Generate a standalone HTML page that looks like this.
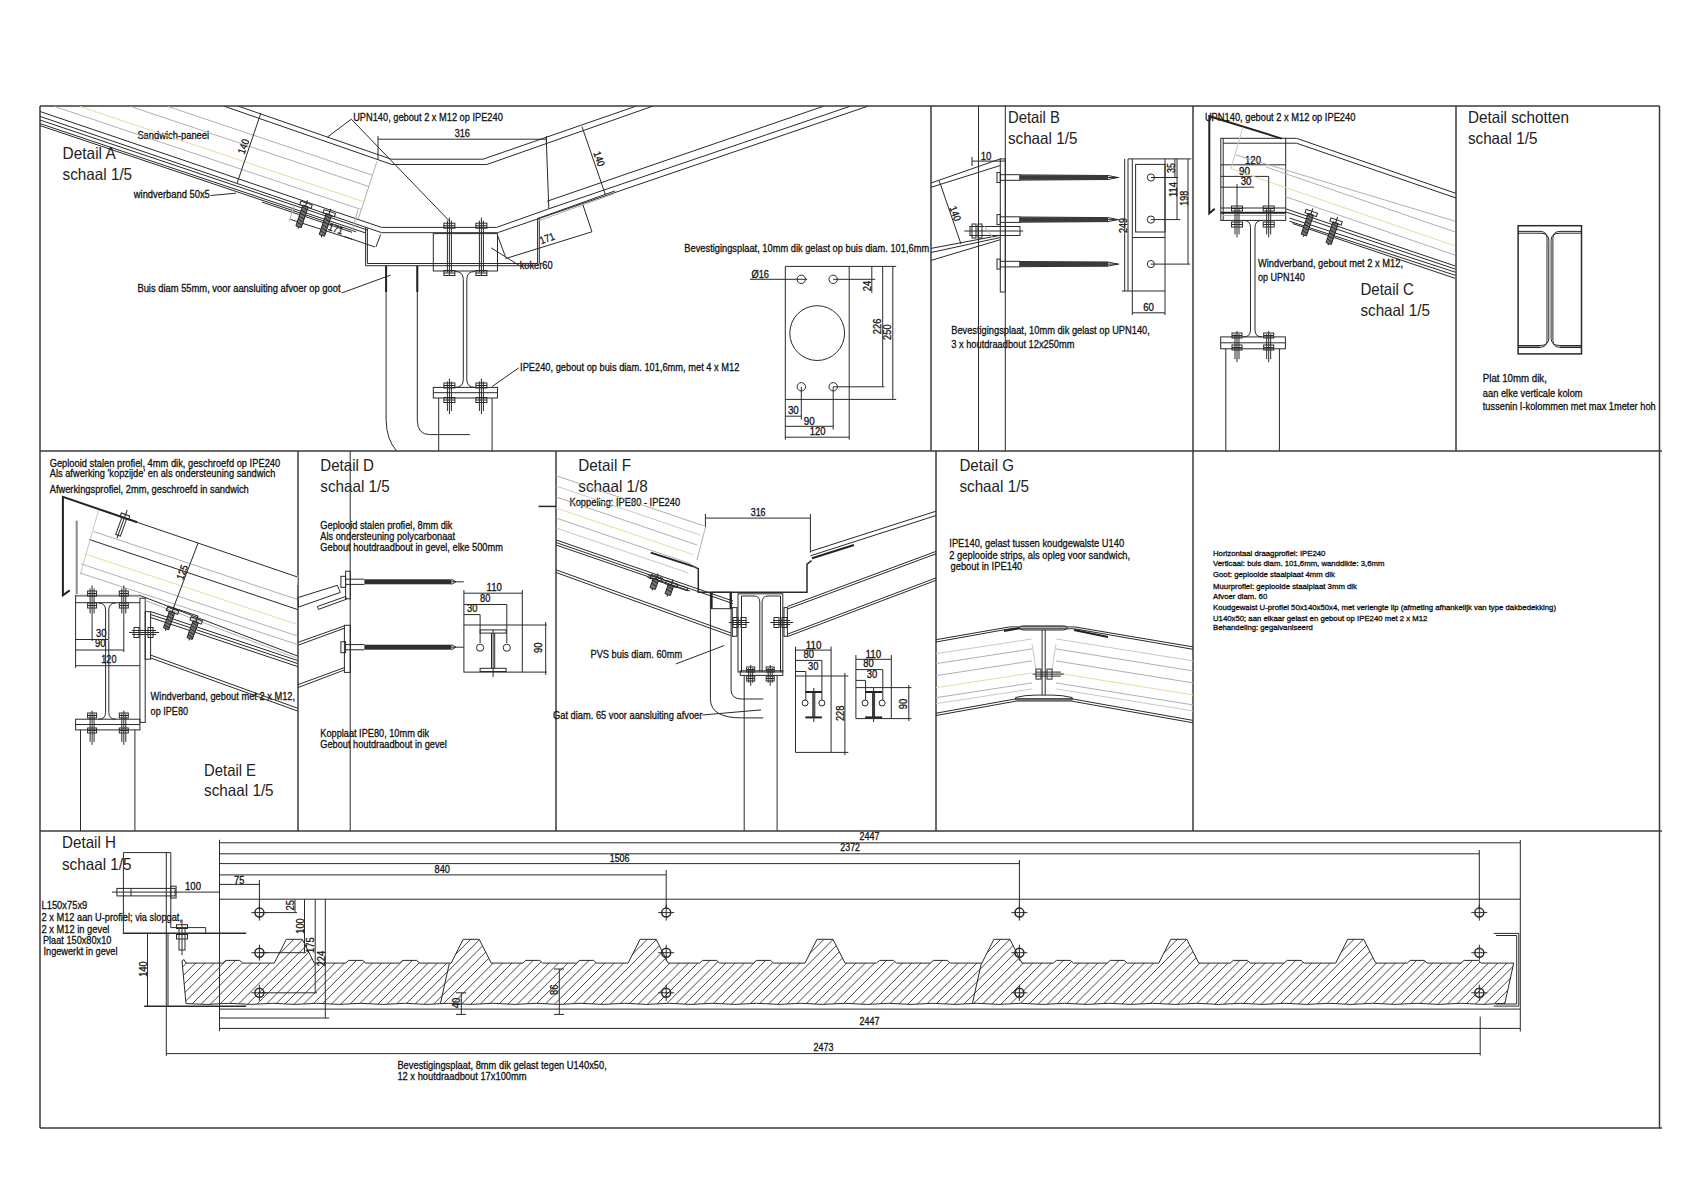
<!DOCTYPE html>
<html><head><meta charset="utf-8"><style>
html,body{margin:0;padding:0;background:#fff;}
body{width:1684px;height:1191px;overflow:hidden;}
svg{display:block;}
.k{stroke:#2a2a2a;stroke-width:1;fill:none;}
.kf{stroke:#2a2a2a;stroke-width:1;fill:none;}
.k2{stroke:#222;stroke-width:2;fill:none;}
.k15{stroke:#2a2a2a;stroke-width:1.5;fill:none;}
.g{stroke:#b0b0b0;stroke-width:1;fill:none;}
.gt{stroke:#8a8a8a;stroke-width:2;fill:none;}
.g2{stroke:#c8c8c8;stroke-width:1;fill:none;}
.o{stroke:#e8dc9c;stroke-width:1;fill:none;}
.fr{stroke:#3a3a3a;stroke-width:1.5;fill:none;}
.h{stroke:#333;stroke-width:0.9;fill:none;}
.t{font-family:"Liberation Sans",sans-serif;fill:#111;stroke:#111;stroke-width:0.3;}
.tt{font-family:"Liberation Sans",sans-serif;fill:#222;}
</style></head><body>
<svg width="1684" height="1191" viewBox="0 0 1684 1191">
<rect x="0" y="0" width="1684" height="1191" fill="#fff"/>
<line class="fr" x1="40" y1="106" x2="1659.5" y2="106"/>
<line class="fr" x1="40" y1="106" x2="40" y2="1128"/>
<line class="fr" x1="1659.5" y1="106" x2="1659.5" y2="1128"/>
<line class="fr" x1="40" y1="1128" x2="1662" y2="1128"/>
<line class="fr" x1="40" y1="451" x2="1662" y2="451"/>
<line class="fr" x1="40" y1="831" x2="1662" y2="831"/>
<line class="fr" x1="931" y1="106" x2="931" y2="451"/>
<line class="fr" x1="1193" y1="106" x2="1193" y2="451"/>
<line class="fr" x1="1456" y1="106" x2="1456" y2="451"/>
<line class="fr" x1="298" y1="451" x2="298" y2="831"/>
<line class="fr" x1="556" y1="451" x2="556" y2="831"/>
<line class="fr" x1="936" y1="451" x2="936" y2="831"/>
<line class="fr" x1="1193" y1="451" x2="1193" y2="831"/>
<text class="tt" x="62.6" y="159" font-size="16.5" textLength="53.1" lengthAdjust="spacingAndGlyphs">Detail A</text>
<text class="tt" x="62.6" y="179.6" font-size="16.5" textLength="69.5" lengthAdjust="spacingAndGlyphs">schaal 1/5</text>
<text class="tt" x="1007.9" y="122.9" font-size="16.5" textLength="52.1" lengthAdjust="spacingAndGlyphs">Detail B</text>
<text class="tt" x="1007.9" y="143.6" font-size="16.5" textLength="69.5" lengthAdjust="spacingAndGlyphs">schaal 1/5</text>
<text class="tt" x="1360.4" y="295.2" font-size="16.5" textLength="53.6" lengthAdjust="spacingAndGlyphs">Detail C</text>
<text class="tt" x="1360.4" y="316" font-size="16.5" textLength="69.5" lengthAdjust="spacingAndGlyphs">schaal 1/5</text>
<text class="tt" x="1467.9" y="123.2" font-size="16.5" textLength="101.1" lengthAdjust="spacingAndGlyphs">Detail schotten</text>
<text class="tt" x="1467.9" y="144.1" font-size="16.5" textLength="69.5" lengthAdjust="spacingAndGlyphs">schaal 1/5</text>
<text class="tt" x="204.1" y="775.9" font-size="16.5" textLength="51.9" lengthAdjust="spacingAndGlyphs">Detail E</text>
<text class="tt" x="204.1" y="796.3" font-size="16.5" textLength="69.5" lengthAdjust="spacingAndGlyphs">schaal 1/5</text>
<text class="tt" x="320.3" y="470.7" font-size="16.5" textLength="53.7" lengthAdjust="spacingAndGlyphs">Detail D</text>
<text class="tt" x="320.3" y="491.8" font-size="16.5" textLength="69.5" lengthAdjust="spacingAndGlyphs">schaal 1/5</text>
<text class="tt" x="578.3" y="471" font-size="16.5" textLength="52.7" lengthAdjust="spacingAndGlyphs">Detail F</text>
<text class="tt" x="578.3" y="491.7" font-size="16.5" textLength="69.5" lengthAdjust="spacingAndGlyphs">schaal 1/8</text>
<text class="tt" x="959.4" y="470.9" font-size="16.5" textLength="54.6" lengthAdjust="spacingAndGlyphs">Detail G</text>
<text class="tt" x="959.4" y="492.1" font-size="16.5" textLength="69.5" lengthAdjust="spacingAndGlyphs">schaal 1/5</text>
<text class="tt" x="62" y="848.3" font-size="16.5" textLength="54" lengthAdjust="spacingAndGlyphs">Detail H</text>
<text class="tt" x="62" y="870.4" font-size="16.5" textLength="69.5" lengthAdjust="spacingAndGlyphs">schaal 1/5</text>
<text class="t" x="137.4" y="138.5" font-size="10.5" textLength="71.7" lengthAdjust="spacingAndGlyphs">Sandwich-paneel</text>
<text class="t" x="133.8" y="198.1" font-size="10.5" textLength="76" lengthAdjust="spacingAndGlyphs">windverband 50x5</text>
<text class="t" x="137.4" y="292.4" font-size="10.5" textLength="203.1" lengthAdjust="spacingAndGlyphs">Buis diam 55mm, voor aansluiting afvoer op goot</text>
<text class="t" x="353.2" y="121.4" font-size="11" textLength="149.6" lengthAdjust="spacingAndGlyphs">UPN140, gebout 2 x M12 op IPE240</text>
<text class="t" x="454.7" y="137.4" font-size="11" textLength="15.2" lengthAdjust="spacingAndGlyphs">316</text>
<text class="t" x="519.7" y="269.2" font-size="11" textLength="33" lengthAdjust="spacingAndGlyphs">koker60</text>
<text class="t" x="520.1" y="370.9" font-size="11" textLength="219.2" lengthAdjust="spacingAndGlyphs">IPE240, gebout op buis diam. 101,6mm, met 4 x M12</text>
<text class="t" x="684.3" y="251.9" font-size="11" textLength="244.9" lengthAdjust="spacingAndGlyphs">Bevestigingsplaat, 10mm dik gelast op buis diam. 101,6mm</text>
<text class="t" x="751.5" y="277.6" font-size="11" textLength="17.5" lengthAdjust="spacingAndGlyphs">Ø16</text>
<text class="t" x="787.9" y="413.7" font-size="11" textLength="10.9" lengthAdjust="spacingAndGlyphs">30</text>
<text class="t" x="803.8" y="424.6" font-size="11" textLength="10.9" lengthAdjust="spacingAndGlyphs">90</text>
<text class="t" x="809.7" y="435" font-size="11" textLength="15.8" lengthAdjust="spacingAndGlyphs">120</text>
<text class="t" x="0" y="0" font-size="11" text-anchor="middle" dominant-baseline="central" textLength="10.5" lengthAdjust="spacingAndGlyphs" transform="translate(866.8 286) rotate(-90)">24</text>
<text class="t" x="0" y="0" font-size="11" text-anchor="middle" dominant-baseline="central" textLength="15.5" lengthAdjust="spacingAndGlyphs" transform="translate(877 326.4) rotate(-90)">226</text>
<text class="t" x="0" y="0" font-size="11" text-anchor="middle" dominant-baseline="central" textLength="15.5" lengthAdjust="spacingAndGlyphs" transform="translate(887 332.2) rotate(-90)">250</text>
<text class="t" x="0" y="0" font-size="10.5" text-anchor="middle" dominant-baseline="central" textLength="15" lengthAdjust="spacingAndGlyphs" transform="translate(243.1 146.3) rotate(-70)">140</text>
<text class="t" x="0" y="0" font-size="10.5" text-anchor="middle" dominant-baseline="central" textLength="15" lengthAdjust="spacingAndGlyphs" transform="translate(599.5 158.8) rotate(70)">140</text>
<text class="t" x="0" y="0" font-size="10.5" text-anchor="middle" dominant-baseline="central" textLength="15" lengthAdjust="spacingAndGlyphs" transform="translate(336 228.5) rotate(20)">171</text>
<text class="t" x="0" y="0" font-size="10.5" text-anchor="middle" dominant-baseline="central" textLength="15" lengthAdjust="spacingAndGlyphs" transform="translate(547 238) rotate(-20)">171</text>
<text class="t" x="980.7" y="160" font-size="11" textLength="10.8" lengthAdjust="spacingAndGlyphs">10</text>
<text class="t" x="0" y="0" font-size="10.5" text-anchor="middle" dominant-baseline="central" textLength="15" lengthAdjust="spacingAndGlyphs" transform="translate(955.6 213.5) rotate(70)">140</text>
<text class="t" x="0" y="0" font-size="10.5" text-anchor="middle" dominant-baseline="central" textLength="10" lengthAdjust="spacingAndGlyphs" transform="translate(1170.5 168) rotate(-90)">35</text>
<text class="t" x="0" y="0" font-size="10.5" text-anchor="middle" dominant-baseline="central" textLength="15" lengthAdjust="spacingAndGlyphs" transform="translate(1172.5 189.5) rotate(-90)">114</text>
<text class="t" x="0" y="0" font-size="10.5" text-anchor="middle" dominant-baseline="central" textLength="15" lengthAdjust="spacingAndGlyphs" transform="translate(1183.5 198.2) rotate(-90)">198</text>
<text class="t" x="0" y="0" font-size="10.5" text-anchor="middle" dominant-baseline="central" textLength="15" lengthAdjust="spacingAndGlyphs" transform="translate(1122.5 225.5) rotate(-90)">249</text>
<text class="t" x="1143.2" y="310.6" font-size="11" textLength="10.7" lengthAdjust="spacingAndGlyphs">60</text>
<text class="t" x="951.2" y="333.5" font-size="11" textLength="198.6" lengthAdjust="spacingAndGlyphs">Bevestigingsplaat, 10mm dik gelast op UPN140,</text>
<text class="t" x="951.2" y="347.7" font-size="11" textLength="123.3" lengthAdjust="spacingAndGlyphs">3 x houtdraadbout 12x250mm</text>
<text class="t" x="1204.9" y="120.9" font-size="11" textLength="150.5" lengthAdjust="spacingAndGlyphs">UPN140, gebout 2 x M12 op IPE240</text>
<text class="t" x="1245" y="164" font-size="11" textLength="16" lengthAdjust="spacingAndGlyphs">120</text>
<text class="t" x="1239" y="174.5" font-size="11" textLength="11" lengthAdjust="spacingAndGlyphs">90</text>
<text class="t" x="1240.7" y="185" font-size="11" textLength="10.8" lengthAdjust="spacingAndGlyphs">30</text>
<text class="t" x="1258" y="266.9" font-size="11" textLength="145" lengthAdjust="spacingAndGlyphs">Windverband, gebout met 2 x M12,</text>
<text class="t" x="1258" y="280.9" font-size="11" textLength="46.7" lengthAdjust="spacingAndGlyphs">op UPN140</text>
<text class="t" x="1482.8" y="381.7" font-size="10.5" textLength="64.1" lengthAdjust="spacingAndGlyphs">Plat 10mm dik,</text>
<text class="t" x="1482.8" y="396.6" font-size="10.5" textLength="99.8" lengthAdjust="spacingAndGlyphs">aan elke verticale kolom</text>
<text class="t" x="1482.8" y="410" font-size="10.5" textLength="172.9" lengthAdjust="spacingAndGlyphs">tussenin I-kolommen met max 1meter hoh</text>
<text class="t" x="49.7" y="466.5" font-size="11" textLength="230.5" lengthAdjust="spacingAndGlyphs">Geplooid stalen profiel, 4mm dik, geschroefd op IPE240</text>
<text class="t" x="49.7" y="477" font-size="11" textLength="225.7" lengthAdjust="spacingAndGlyphs">Als afwerking 'kopzijde' en als ondersteuning sandwich</text>
<text class="t" x="49.7" y="492.8" font-size="11" textLength="199.1" lengthAdjust="spacingAndGlyphs">Afwerkingsprofiel, 2mm, geschroefd in sandwich</text>
<text class="t" x="0" y="0" font-size="10.5" text-anchor="middle" dominant-baseline="central" textLength="15" lengthAdjust="spacingAndGlyphs" transform="translate(181.9 572.1) rotate(-70)">125</text>
<text class="t" x="96" y="636.7" font-size="11" textLength="10.5" lengthAdjust="spacingAndGlyphs">30</text>
<text class="t" x="95" y="646.8" font-size="11" textLength="10.5" lengthAdjust="spacingAndGlyphs">90</text>
<text class="t" x="101.3" y="663.1" font-size="11" textLength="15.2" lengthAdjust="spacingAndGlyphs">120</text>
<text class="t" x="150.6" y="700.3" font-size="11" textLength="144.5" lengthAdjust="spacingAndGlyphs">Windverband, gebout met 2 x M12,</text>
<text class="t" x="150.6" y="714.5" font-size="11" textLength="37.4" lengthAdjust="spacingAndGlyphs">op IPE80</text>
<text class="t" x="320.3" y="529.2" font-size="11" textLength="132.2" lengthAdjust="spacingAndGlyphs">Geplooid stalen profiel, 8mm dik</text>
<text class="t" x="320.3" y="539.9" font-size="11" textLength="134.8" lengthAdjust="spacingAndGlyphs">Als ondersteuning polycarbonaat</text>
<text class="t" x="320.3" y="551.3" font-size="11" textLength="182.6" lengthAdjust="spacingAndGlyphs">Gebout houtdraadbout in gevel, elke 500mm</text>
<text class="t" x="486.6" y="590.9" font-size="11" textLength="15.4" lengthAdjust="spacingAndGlyphs">110</text>
<text class="t" x="480.1" y="601.6" font-size="11" textLength="10.4" lengthAdjust="spacingAndGlyphs">80</text>
<text class="t" x="467.1" y="612" font-size="11" textLength="10.4" lengthAdjust="spacingAndGlyphs">30</text>
<text class="t" x="0" y="0" font-size="11" text-anchor="middle" dominant-baseline="central" textLength="10.5" lengthAdjust="spacingAndGlyphs" transform="translate(537.5 647.7) rotate(-90)">90</text>
<text class="t" x="320.3" y="737" font-size="11" textLength="108.8" lengthAdjust="spacingAndGlyphs">Kopplaat IPE80, 10mm dik</text>
<text class="t" x="320.3" y="748.4" font-size="11" textLength="126.4" lengthAdjust="spacingAndGlyphs">Gebout houtdraadbout in gevel</text>
<text class="t" x="569.5" y="505.5" font-size="11" textLength="110.6" lengthAdjust="spacingAndGlyphs">Koppeling: IPE80 - IPE240</text>
<text class="t" x="750.7" y="515.8" font-size="11" textLength="14.9" lengthAdjust="spacingAndGlyphs">316</text>
<text class="t" x="590.5" y="658.1" font-size="11" textLength="91.7" lengthAdjust="spacingAndGlyphs">PVS buis diam. 60mm</text>
<text class="t" x="553" y="719" font-size="11" textLength="149.4" lengthAdjust="spacingAndGlyphs">Gat diam. 65 voor aansluiting afvoer</text>
<text class="t" x="805.8" y="649" font-size="11" textLength="15.7" lengthAdjust="spacingAndGlyphs">110</text>
<text class="t" x="803.5" y="658.1" font-size="11" textLength="10.5" lengthAdjust="spacingAndGlyphs">80</text>
<text class="t" x="808.1" y="669.6" font-size="11" textLength="10.4" lengthAdjust="spacingAndGlyphs">30</text>
<text class="t" x="0" y="0" font-size="11" text-anchor="middle" dominant-baseline="central" textLength="15.5" lengthAdjust="spacingAndGlyphs" transform="translate(839.5 713.3) rotate(-90)">228</text>
<text class="t" x="865.6" y="658.1" font-size="11" textLength="15.7" lengthAdjust="spacingAndGlyphs">110</text>
<text class="t" x="863.3" y="667.3" font-size="11" textLength="10.5" lengthAdjust="spacingAndGlyphs">80</text>
<text class="t" x="866.7" y="677.7" font-size="11" textLength="10.5" lengthAdjust="spacingAndGlyphs">30</text>
<text class="t" x="0" y="0" font-size="11" text-anchor="middle" dominant-baseline="central" textLength="10.5" lengthAdjust="spacingAndGlyphs" transform="translate(902.5 704.1) rotate(-90)">90</text>
<text class="t" x="949.3" y="547.3" font-size="11" textLength="174.8" lengthAdjust="spacingAndGlyphs">IPE140, gelast tussen koudgewalste U140</text>
<text class="t" x="949.3" y="559.4" font-size="11" textLength="180.8" lengthAdjust="spacingAndGlyphs">2 geplooide strips, als opleg voor sandwich,</text>
<text class="t" x="950.5" y="569.7" font-size="11" textLength="71.8" lengthAdjust="spacingAndGlyphs">gebout in IPE140</text>
<text class="t" x="1213" y="556.2" font-size="7.8" textLength="112.4" lengthAdjust="spacingAndGlyphs">Horizontaal draagprofiel: IPE240</text>
<text class="t" x="1213" y="566.4" font-size="7.8" textLength="171.5" lengthAdjust="spacingAndGlyphs">Verticaal: buis diam. 101,6mm, wanddikte: 3,6mm</text>
<text class="t" x="1213" y="577.2" font-size="7.8" textLength="121.9" lengthAdjust="spacingAndGlyphs">Goot: geplooide staalplaat 4mm dik</text>
<text class="t" x="1213" y="588.5" font-size="7.8" textLength="144" lengthAdjust="spacingAndGlyphs">Muurprofiel: geplooide staalplaat 3mm dik</text>
<text class="t" x="1213" y="598.7" font-size="7.8" textLength="54.2" lengthAdjust="spacingAndGlyphs">Afvoer diam. 60</text>
<text class="t" x="1213" y="609.5" font-size="7.8" textLength="343" lengthAdjust="spacingAndGlyphs">Koudgewalst U-profiel 50x140x50x4, met verlengte lip (afmeting afhankelijk van type dakbedekking)</text>
<text class="t" x="1213" y="620.5" font-size="7.8" textLength="214.4" lengthAdjust="spacingAndGlyphs">U140x50; aan elkaar gelast en gebout op IPE240 met 2 x M12</text>
<text class="t" x="1213" y="630.3" font-size="7.8" textLength="99.8" lengthAdjust="spacingAndGlyphs">Behandeling: gegalvaniseerd</text>
<text class="t" x="185" y="890.1" font-size="11" textLength="16" lengthAdjust="spacingAndGlyphs">100</text>
<text class="t" x="234.1" y="883.5" font-size="11" textLength="10.4" lengthAdjust="spacingAndGlyphs">75</text>
<text class="t" x="41.5" y="908.9" font-size="11" textLength="45.8" lengthAdjust="spacingAndGlyphs">L150x75x9</text>
<text class="t" x="41.5" y="920.7" font-size="11" textLength="140.5" lengthAdjust="spacingAndGlyphs">2 x M12 aan U-profiel; via slopgat,</text>
<text class="t" x="41.5" y="932.6" font-size="11" textLength="67.9" lengthAdjust="spacingAndGlyphs">2 x M12 in gevel</text>
<text class="t" x="42.9" y="944" font-size="11" textLength="68.5" lengthAdjust="spacingAndGlyphs">Plaat 150x80x10</text>
<text class="t" x="43.5" y="955.3" font-size="11" textLength="74" lengthAdjust="spacingAndGlyphs">Ingewerkt in gevel</text>
<text class="t" x="0" y="0" font-size="11" text-anchor="middle" dominant-baseline="central" textLength="15.5" lengthAdjust="spacingAndGlyphs" transform="translate(142.6 969.1) rotate(-90)">140</text>
<text class="t" x="859.6" y="840.4" font-size="11" textLength="19.9" lengthAdjust="spacingAndGlyphs">2447</text>
<text class="t" x="840.3" y="851.1" font-size="11" textLength="19.7" lengthAdjust="spacingAndGlyphs">2372</text>
<text class="t" x="609.7" y="862.1" font-size="11" textLength="19.8" lengthAdjust="spacingAndGlyphs">1506</text>
<text class="t" x="434.6" y="872.5" font-size="11" textLength="15.4" lengthAdjust="spacingAndGlyphs">840</text>
<text class="t" x="0" y="0" font-size="11" text-anchor="middle" dominant-baseline="central" textLength="10.5" lengthAdjust="spacingAndGlyphs" transform="translate(289.5 905.2) rotate(-90)">25</text>
<text class="t" x="0" y="0" font-size="11" text-anchor="middle" dominant-baseline="central" textLength="15.5" lengthAdjust="spacingAndGlyphs" transform="translate(299.5 926) rotate(-90)">100</text>
<text class="t" x="0" y="0" font-size="11" text-anchor="middle" dominant-baseline="central" textLength="15.5" lengthAdjust="spacingAndGlyphs" transform="translate(310 945.2) rotate(-90)">175</text>
<text class="t" x="0" y="0" font-size="11" text-anchor="middle" dominant-baseline="central" textLength="15.5" lengthAdjust="spacingAndGlyphs" transform="translate(320.5 958.6) rotate(-90)">224</text>
<text class="t" x="0" y="0" font-size="11" text-anchor="middle" dominant-baseline="central" textLength="10.5" lengthAdjust="spacingAndGlyphs" transform="translate(455.5 1003.1) rotate(-90)">40</text>
<text class="t" x="0" y="0" font-size="11" text-anchor="middle" dominant-baseline="central" textLength="10.5" lengthAdjust="spacingAndGlyphs" transform="translate(553.5 989.8) rotate(-90)">86</text>
<text class="t" x="859.6" y="1025.4" font-size="11" textLength="19.9" lengthAdjust="spacingAndGlyphs">2447</text>
<text class="t" x="813.6" y="1050.7" font-size="11" textLength="19.9" lengthAdjust="spacingAndGlyphs">2473</text>
<text class="t" x="397.4" y="1068.5" font-size="11" textLength="209.4" lengthAdjust="spacingAndGlyphs">Bevestigingsplaat, 8mm dik gelast tegen U140x50,</text>
<text class="t" x="397.4" y="1080.3" font-size="11" textLength="129.2" lengthAdjust="spacingAndGlyphs">12 x houtdraadbout 17x100mm</text>
<line class="g" x1="168" y1="106.5" x2="372.5" y2="175.2"/>
<line class="g" x1="130.8" y1="106.5" x2="368.8" y2="186.5"/>
<line class="o" x1="80.2" y1="106.5" x2="363.8" y2="201.8"/>
<line class="g" x1="54.6" y1="106.5" x2="361.3" y2="209.6"/>
<line class="g" x1="377" y1="161.3" x2="358.3" y2="218.8"/>
<polyline class="k" points="238.7,106.3 391.2,159.2 483,159.2 635.6,106.3"/>
<polyline class="k" points="224.4,106.3 391.9,164.5 486.8,164.5 652.3,106.3"/>
<polyline class="k" points="40,111.5 381.5,227.4 496.6,227.4 548.8,208.8 850,106.3"/>
<polyline class="k" points="40,116.4 381.7,232.7 497.5,232.7 560,211.3 867.5,106.3"/>
<line class="k" x1="40" y1="120" x2="368" y2="230.2"/>
<line class="k" x1="40" y1="123.6" x2="366" y2="233.1"/>
<line class="k" x1="40" y1="125.6" x2="356" y2="231.8"/>
<line class="k" x1="262" y1="202.1" x2="352" y2="232.3"/>
<line class="k" x1="344.5" y1="236.5" x2="374.9" y2="247"/>
<line class="k" x1="380.6" y1="234.6" x2="375.9" y2="247"/>
<line class="g" x1="352.1" y1="230.8" x2="357.8" y2="209.9"/>
<polyline class="k" points="365.6,227.4 365.6,265.7 537.6,265.7 537.6,218.5"/>
<polyline class="k" points="367.4,228.3 367.4,263.5 536.7,263.5"/>
<line class="k" x1="539.3" y1="218" x2="539.3" y2="263.5"/>
<line class="k" x1="546.2" y1="137" x2="548.8" y2="208.8"/>
<line class="k" x1="547.2" y1="201.2" x2="823.3" y2="106.3"/>
<line class="k" x1="537.6" y1="218.5" x2="615" y2="190.9"/>
<line class="g" x1="538" y1="221" x2="615" y2="193.4"/>
<line class="k" x1="582" y1="126.7" x2="605.3" y2="194.4"/>
<line class="k" x1="583" y1="205" x2="591.9" y2="231.8"/>
<line class="k" x1="591.9" y1="231.8" x2="505.5" y2="258.6"/>
<line class="k" x1="497.5" y1="235.4" x2="505.5" y2="256.8"/>
<line class="k" x1="378" y1="139.2" x2="546.5" y2="139.2"/>
<line class="k" x1="378" y1="136" x2="378" y2="159.5"/>
<line class="k" x1="546.5" y1="136" x2="546.5" y2="143"/>
<line class="k" x1="260.9" y1="113" x2="237.1" y2="183.1"/>
<line class="g" x1="289.4" y1="221.3" x2="295.1" y2="201.4"/>
<line class="k" x1="290.5" y1="219.4" x2="352.1" y2="239.3"/>
<line class="k" x1="351.3" y1="119.2" x2="327.4" y2="137.1"/>
<line class="k" x1="351.3" y1="119.2" x2="449.4" y2="221"/>
<line class="k" x1="491.2" y1="247.9" x2="519.7" y2="265.7"/>
<line class="k" x1="210.5" y1="195.5" x2="236" y2="193.2"/>
<line class="k" x1="341.6" y1="293" x2="390.6" y2="275.1"/>
<rect class="k" x="433.3" y="233.6" width="64.2" height="37.4"/>
<line class="k" x1="449.4" y1="217.6" x2="449.4" y2="275.5"/>
<line class="k" x1="447.4" y1="220.6" x2="447.4" y2="272.5"/>
<line class="k" x1="451.4" y1="220.6" x2="451.4" y2="272.5"/>
<rect class="k" x="443.9" y="223.2" width="11" height="5"/>
<line class="k" x1="443.9" y1="225.7" x2="454.9" y2="225.7"/>
<rect class="k" x="443.9" y="270.5" width="11" height="5"/>
<line class="k" x1="443.9" y1="273" x2="454.9" y2="273"/>
<line class="k" x1="481.4" y1="217.6" x2="481.4" y2="275.5"/>
<line class="k" x1="479.4" y1="220.6" x2="479.4" y2="272.5"/>
<line class="k" x1="483.4" y1="220.6" x2="483.4" y2="272.5"/>
<rect class="k" x="475.9" y="223.2" width="11" height="5"/>
<line class="k" x1="475.9" y1="225.7" x2="486.9" y2="225.7"/>
<rect class="k" x="475.9" y="270.5" width="11" height="5"/>
<line class="k" x1="475.9" y1="273" x2="486.9" y2="273"/>
<path class="kf" d="M455.3 271.5 Q463.3 271.5 463.3 279.5 L463.3 379.4 Q463.3 387.4 455.3 387.4"/>
<path class="kf" d="M474.8 271.5 Q466.8 271.5 466.8 279.5 L466.8 379.4 Q466.8 387.4 474.8 387.4"/>
<rect class="k" x="433.3" y="387.4" width="64.2" height="10.6"/>
<line class="k" x1="433.3" y1="392.7" x2="497.5" y2="392.7"/>
<line class="k" x1="449.4" y1="378.5" x2="449.4" y2="414"/>
<line class="k" x1="447.4" y1="381.5" x2="447.4" y2="411"/>
<line class="k" x1="451.4" y1="381.5" x2="451.4" y2="411"/>
<rect class="k" x="443.9" y="383" width="11" height="5"/>
<line class="k" x1="443.9" y1="385.5" x2="454.9" y2="385.5"/>
<rect class="k" x="443.9" y="397.5" width="11" height="5"/>
<line class="k" x1="443.9" y1="400" x2="454.9" y2="400"/>
<line class="k" x1="481.4" y1="378.5" x2="481.4" y2="414"/>
<line class="k" x1="479.4" y1="381.5" x2="479.4" y2="411"/>
<line class="k" x1="483.4" y1="381.5" x2="483.4" y2="411"/>
<rect class="k" x="475.9" y="383" width="11" height="5"/>
<line class="k" x1="475.9" y1="385.5" x2="486.9" y2="385.5"/>
<rect class="k" x="475.9" y="397.5" width="11" height="5"/>
<line class="k" x1="475.9" y1="400" x2="486.9" y2="400"/>
<line class="k" x1="438.7" y1="398" x2="438.7" y2="451"/>
<line class="k" x1="492.1" y1="398" x2="492.1" y2="451"/>
<path class="k" d="M386.1 266 L386.1 420 Q386.5 440 396.8 451"/>
<path class="k" d="M417.3 266 L417.3 420.3 Q417.5 434.6 429.8 434.6 L469.9 434.6"/>
<line class="k2" x1="386.1" y1="266" x2="386.1" y2="292"/>
<line class="k2" x1="417.3" y1="266" x2="417.3" y2="292"/>
<g transform="translate(302.7 214.5) rotate(18.6)">
<line class="k" x1="0" y1="-15" x2="0" y2="15"/>
<rect x="-2.8" y="-9" width="5.6" height="22" fill="#777" stroke="#222" stroke-width="0.9"/>
<line class="k" x1="-2.8" y1="-7" x2="2.8" y2="-5.5"/>
<line class="k" x1="-2.8" y1="-3.8" x2="2.8" y2="-2.3"/>
<line class="k" x1="-2.8" y1="-0.6" x2="2.8" y2="0.9"/>
<line class="k" x1="-2.8" y1="2.6" x2="2.8" y2="4.1"/>
<line class="k" x1="-2.8" y1="5.8" x2="2.8" y2="7.3"/>
<line class="k" x1="-2.8" y1="9" x2="2.8" y2="10.5"/>
<rect class="k" x="-6" y="-12" width="12" height="3.5"/>
</g>
<g transform="translate(326 223) rotate(18.6)">
<line class="k" x1="0" y1="-15" x2="0" y2="15"/>
<rect x="-2.8" y="-9" width="5.6" height="22" fill="#777" stroke="#222" stroke-width="0.9"/>
<line class="k" x1="-2.8" y1="-7" x2="2.8" y2="-5.5"/>
<line class="k" x1="-2.8" y1="-3.8" x2="2.8" y2="-2.3"/>
<line class="k" x1="-2.8" y1="-0.6" x2="2.8" y2="0.9"/>
<line class="k" x1="-2.8" y1="2.6" x2="2.8" y2="4.1"/>
<line class="k" x1="-2.8" y1="5.8" x2="2.8" y2="7.3"/>
<line class="k" x1="-2.8" y1="9" x2="2.8" y2="10.5"/>
<rect class="k" x="-6" y="-12" width="12" height="3.5"/>
</g>
<line class="k" x1="785.3" y1="266.4" x2="896.2" y2="266.4"/>
<line class="k" x1="785.3" y1="266.4" x2="785.3" y2="439.7"/>
<line class="k" x1="849.2" y1="266.4" x2="849.2" y2="439.7"/>
<line class="k" x1="785.3" y1="399.4" x2="896.2" y2="399.4"/>
<line class="k" x1="871.8" y1="266.4" x2="871.8" y2="292.8"/>
<line class="k" x1="882.7" y1="266.4" x2="882.7" y2="386.8"/>
<line class="k" x1="892.8" y1="266.4" x2="892.8" y2="399.4"/>
<circle class="k" cx="801.3" cy="279.3" r="4.2"/>
<circle class="k" cx="801.3" cy="386.8" r="4.2"/>
<circle class="k" cx="833.2" cy="279.3" r="4.2"/>
<circle class="k" cx="833.2" cy="386.8" r="4.2"/>
<line class="k" x1="833.2" y1="279.3" x2="875.2" y2="279.3"/>
<line class="k" x1="750" y1="279.3" x2="807.2" y2="279.3"/>
<line class="k" x1="833.2" y1="386.8" x2="884.4" y2="386.8"/>
<circle class="k" cx="817.2" cy="333.1" r="27.4"/>
<line class="k" x1="785.3" y1="416.2" x2="801.3" y2="416.2"/>
<line class="k" x1="801.3" y1="386.8" x2="801.3" y2="419.6"/>
<line class="k" x1="785.3" y1="426.3" x2="833.2" y2="426.3"/>
<line class="k" x1="833.2" y1="386.8" x2="833.2" y2="429.6"/>
<line class="k" x1="785.3" y1="437.2" x2="849.2" y2="437.2"/>
<line class="k" x1="518.8" y1="367.8" x2="492.1" y2="386.5"/>
<line class="k" x1="978.5" y1="106" x2="978.5" y2="451"/>
<line class="k" x1="1005.3" y1="106" x2="1005.3" y2="451"/>
<line class="k" x1="931" y1="183" x2="1000.3" y2="158.9"/>
<line class="k" x1="931" y1="187.3" x2="1000.3" y2="165.5"/>
<line class="k" x1="931" y1="248.4" x2="1000.3" y2="235.3"/>
<line class="k" x1="931" y1="252.5" x2="1000.3" y2="237.5"/>
<line class="k" x1="931" y1="260.4" x2="1000.3" y2="239.7"/>
<line class="k" x1="939.2" y1="180.7" x2="961" y2="244"/>
<line class="k" x1="972" y1="157" x2="972" y2="166"/>
<line class="k" x1="972" y1="161.1" x2="1005.3" y2="161.1"/>
<rect class="k" x="1000.3" y="158.9" width="5" height="133.1"/>
<line class="k" x1="964.3" y1="231" x2="1023.2" y2="231"/>
<rect class="k" x="970" y="226.5" width="50" height="9"/>
<rect class="k" x="972" y="224" width="4" height="14"/>
<rect class="k" x="978" y="224" width="4" height="14"/>
<line class="g" x1="984" y1="226" x2="995" y2="240"/>
<rect class="k" x="997" y="172.5" width="3.3" height="10"/>
<line class="k" x1="1000.3" y1="174.7" x2="1020" y2="174.7"/>
<line class="k" x1="1000.3" y1="180.3" x2="1020" y2="180.3"/>
<line class="k" x1="1020" y1="174.7" x2="1020" y2="180.3"/>
<path class="k" d="M1020 174.9 L1108 175.5 L1118 177.5 L1108 179.5 L1020 180.1 Z"/>
<rect x="1020" y="175.2" width="88" height="4.6" fill="#3a3a3a"/>
<line class="k" x1="1108" y1="177.5" x2="1119.2" y2="177.5"/>
<rect class="k" x="997" y="214.6" width="3.3" height="10"/>
<line class="k" x1="1000.3" y1="216.8" x2="1020" y2="216.8"/>
<line class="k" x1="1000.3" y1="222.4" x2="1020" y2="222.4"/>
<line class="k" x1="1020" y1="216.8" x2="1020" y2="222.4"/>
<path class="k" d="M1020 217 L1108 217.6 L1118 219.6 L1108 221.6 L1020 222.2 Z"/>
<rect x="1020" y="217.3" width="88" height="4.6" fill="#3a3a3a"/>
<line class="k" x1="1108" y1="219.6" x2="1119.2" y2="219.6"/>
<rect class="k" x="997" y="259.1" width="3.3" height="10"/>
<line class="k" x1="1000.3" y1="261.3" x2="1020" y2="261.3"/>
<line class="k" x1="1000.3" y1="266.9" x2="1020" y2="266.9"/>
<line class="k" x1="1020" y1="261.3" x2="1020" y2="266.9"/>
<path class="k" d="M1020 261.5 L1108 262.1 L1118 264.1 L1108 266.1 L1020 266.7 Z"/>
<rect x="1020" y="261.8" width="88" height="4.6" fill="#3a3a3a"/>
<line class="k" x1="1108" y1="264.1" x2="1119.2" y2="264.1"/>
<line class="k" x1="1128" y1="158.9" x2="1128" y2="291"/>
<line class="k" x1="1132.3" y1="158.9" x2="1132.3" y2="291"/>
<line class="k" x1="1128" y1="158.9" x2="1191.3" y2="158.9"/>
<line class="k" x1="1165" y1="158.9" x2="1165" y2="315"/>
<rect class="k" x="1135.6" y="164.4" width="29.4" height="67.6"/>
<line class="k" x1="1132.3" y1="237.5" x2="1165" y2="237.5"/>
<line class="k" x1="1122" y1="291" x2="1165" y2="291"/>
<line class="k" x1="1124.7" y1="158.9" x2="1124.7" y2="291"/>
<circle class="k" cx="1150.9" cy="177.5" r="3.6"/>
<circle class="k" cx="1150.9" cy="219.6" r="3.6"/>
<circle class="k" cx="1150.9" cy="264.1" r="3.6"/>
<line class="k" x1="1150.9" y1="177.5" x2="1178" y2="177.5"/>
<line class="k" x1="1150.9" y1="219.6" x2="1180.3" y2="219.6"/>
<line class="k" x1="1150.9" y1="264.1" x2="1190" y2="264.1"/>
<line class="k" x1="1174.9" y1="158.9" x2="1174.9" y2="177.5"/>
<line class="k" x1="1177" y1="158.9" x2="1177" y2="219.6"/>
<line class="k" x1="1188" y1="158.9" x2="1188" y2="264.1"/>
<line class="k" x1="1132.3" y1="291" x2="1132.3" y2="315"/>
<line class="k" x1="1132.3" y1="312.8" x2="1165" y2="312.8"/>
<polyline class="k2" points="1281.8,138.6 1209.3,116.2 1209.3,213.4 1214.7,208.8"/>
<rect class="k" x="1220.8" y="138.3" width="64.9" height="82.1"/>
<line class="k" x1="1223.2" y1="138.3" x2="1223.2" y2="220.4"/>
<polyline class="k" points="1285.7,138.3 1296.5,138.3 1456,193.4"/>
<polyline class="k" points="1223.2,143.2 1296.5,143.2 1456,198"/>
<line class="k" x1="1220.8" y1="164.8" x2="1285.7" y2="164.8"/>
<line class="k" x1="1220.8" y1="176.4" x2="1268.7" y2="176.4"/>
<line class="k" x1="1220.8" y1="187.2" x2="1254" y2="187.2"/>
<line class="k" x1="1220.8" y1="208" x2="1285.7" y2="208"/>
<line class="k2" x1="1220.8" y1="212.7" x2="1285.7" y2="212.7"/>
<line class="g" x1="1220.8" y1="215.5" x2="1285.7" y2="215.5"/>
<line class="g" x1="1235.5" y1="154.8" x2="1455" y2="221.2"/>
<line class="g" x1="1266.4" y1="167.1" x2="1455" y2="232"/>
<line class="o" x1="1230.9" y1="168.7" x2="1455" y2="245.9"/>
<line class="g" x1="1285" y1="196.5" x2="1455" y2="255.1"/>
<line class="g2" x1="1243" y1="127" x2="1230.9" y2="168.7"/>
<line class="k" x1="1285.7" y1="208.8" x2="1455" y2="265.9"/>
<line class="k" x1="1285.7" y1="211.9" x2="1455" y2="269"/>
<line class="k" x1="1289.5" y1="218" x2="1455" y2="272.1"/>
<line class="k" x1="1289.5" y1="221.2" x2="1455" y2="275.2"/>
<line class="k" x1="1292.6" y1="223.5" x2="1455" y2="278.3"/>
<line class="k" x1="1237" y1="184" x2="1237" y2="205.8"/>
<line class="k" x1="1268.7" y1="176.4" x2="1268.7" y2="205.8"/>
<line class="k" x1="1237" y1="205.8" x2="1237" y2="237.4"/>
<line class="k" x1="1235" y1="208.8" x2="1235" y2="234.4"/>
<line class="k" x1="1239" y1="208.8" x2="1239" y2="234.4"/>
<rect class="k" x="1231.5" y="206" width="11" height="5"/>
<line class="k" x1="1231.5" y1="208.5" x2="1242.5" y2="208.5"/>
<rect class="k" x="1231.5" y="222" width="11" height="5"/>
<line class="k" x1="1231.5" y1="224.5" x2="1242.5" y2="224.5"/>
<line class="k" x1="1268.7" y1="205.8" x2="1268.7" y2="237.4"/>
<line class="k" x1="1266.7" y1="208.8" x2="1266.7" y2="234.4"/>
<line class="k" x1="1270.7" y1="208.8" x2="1270.7" y2="234.4"/>
<rect class="k" x="1263.2" y="206" width="11" height="5"/>
<line class="k" x1="1263.2" y1="208.5" x2="1274.2" y2="208.5"/>
<rect class="k" x="1263.2" y="222" width="11" height="5"/>
<line class="k" x1="1263.2" y1="224.5" x2="1274.2" y2="224.5"/>
<path class="kf" d="M1243.5 220.4 Q1250.5 220.4 1250.5 227.4 L1250.5 329.9 Q1250.5 336.9 1243.5 336.9"/>
<path class="kf" d="M1262 220.4 Q1255 220.4 1255 227.4 L1255 329.9 Q1255 336.9 1262 336.9"/>
<rect class="k" x="1220.7" y="336.9" width="64.7" height="11.9"/>
<line class="k" x1="1220.7" y1="342.8" x2="1285.4" y2="342.8"/>
<line class="k" x1="1237" y1="331" x2="1237" y2="362.2"/>
<line class="k" x1="1235" y1="334" x2="1235" y2="359.2"/>
<line class="k" x1="1239" y1="334" x2="1239" y2="359.2"/>
<rect class="k" x="1232" y="333" width="10" height="5"/>
<line class="k" x1="1232" y1="335.5" x2="1242" y2="335.5"/>
<rect class="k" x="1232" y="345" width="10" height="5"/>
<line class="k" x1="1232" y1="347.5" x2="1242" y2="347.5"/>
<line class="k" x1="1268.7" y1="331" x2="1268.7" y2="362.2"/>
<line class="k" x1="1266.7" y1="334" x2="1266.7" y2="359.2"/>
<line class="k" x1="1270.7" y1="334" x2="1270.7" y2="359.2"/>
<rect class="k" x="1263.7" y="333" width="10" height="5"/>
<line class="k" x1="1263.7" y1="335.5" x2="1273.7" y2="335.5"/>
<rect class="k" x="1263.7" y="345" width="10" height="5"/>
<line class="k" x1="1263.7" y1="347.5" x2="1273.7" y2="347.5"/>
<line class="k" x1="1225.8" y1="348.8" x2="1225.8" y2="451"/>
<line class="k" x1="1279.4" y1="348.8" x2="1279.4" y2="451"/>
<g transform="translate(1308 222.7) rotate(18.6)">
<line class="k" x1="0" y1="-15" x2="0" y2="15"/>
<rect x="-2.8" y="-9" width="5.6" height="22" fill="#777" stroke="#222" stroke-width="0.9"/>
<line class="k" x1="-2.8" y1="-7" x2="2.8" y2="-5.5"/>
<line class="k" x1="-2.8" y1="-3.8" x2="2.8" y2="-2.3"/>
<line class="k" x1="-2.8" y1="-0.6" x2="2.8" y2="0.9"/>
<line class="k" x1="-2.8" y1="2.6" x2="2.8" y2="4.1"/>
<line class="k" x1="-2.8" y1="5.8" x2="2.8" y2="7.3"/>
<line class="k" x1="-2.8" y1="9" x2="2.8" y2="10.5"/>
<rect class="k" x="-6" y="-12" width="12" height="3.5"/>
</g>
<g transform="translate(1332.8 231.2) rotate(18.6)">
<line class="k" x1="0" y1="-15" x2="0" y2="15"/>
<rect x="-2.8" y="-9" width="5.6" height="22" fill="#777" stroke="#222" stroke-width="0.9"/>
<line class="k" x1="-2.8" y1="-7" x2="2.8" y2="-5.5"/>
<line class="k" x1="-2.8" y1="-3.8" x2="2.8" y2="-2.3"/>
<line class="k" x1="-2.8" y1="-0.6" x2="2.8" y2="0.9"/>
<line class="k" x1="-2.8" y1="2.6" x2="2.8" y2="4.1"/>
<line class="k" x1="-2.8" y1="5.8" x2="2.8" y2="7.3"/>
<line class="k" x1="-2.8" y1="9" x2="2.8" y2="10.5"/>
<rect class="k" x="-6" y="-12" width="12" height="3.5"/>
</g>
<rect class="k15" x="1518.1" y="225.7" width="63.4" height="128.2"/>
<path class="k" d="M1518.1 231.4 L1540 231.4 Q1547 231.4 1547 238.4 L1547 340.3 Q1547 347.3 1540 347.3 L1518.1 347.3"/>
<path class="k" d="M1581.5 231.4 L1560 231.4 Q1552.9 231.4 1552.9 238.4 L1552.9 340.3 Q1552.9 347.3 1560 347.3 L1581.5 347.3"/>
<path class="k" d="M1518.1 233.2 L1540 233.2 Q1548.8 233.2 1548.8 240.2 L1548.8 338.5 Q1548.8 345.5 1540 345.5 L1518.1 345.5"/>
<path class="k" d="M1581.5 233.2 L1560 233.2 Q1551.1 233.2 1551.1 240.2 L1551.1 338.5 Q1551.1 345.5 1560 345.5 L1581.5 345.5"/>
<line class="k15" x1="1518.1" y1="347.3" x2="1540" y2="347.3"/>
<line class="k15" x1="1560" y1="347.3" x2="1581.5" y2="347.3"/>
<polyline class="k2" points="137.2,522.3 62.9,496.8 62.9,595.2 69.7,590.4"/>
<line class="gt" x1="76.7" y1="520.6" x2="76.7" y2="594"/>
<line class="k" x1="137.2" y1="522.3" x2="297.5" y2="577"/>
<line class="g" x1="93.5" y1="531.5" x2="297.5" y2="599.5"/>
<line class="k" x1="89.3" y1="539.5" x2="297.5" y2="609.5"/>
<line class="o" x1="84.3" y1="553.7" x2="297.5" y2="624.5"/>
<line class="g" x1="80.9" y1="563.8" x2="297.5" y2="636"/>
<line class="g" x1="80.1" y1="573" x2="297.5" y2="644.5"/>
<line class="g2" x1="98.6" y1="510.3" x2="80" y2="575"/>
<line class="k" x1="198" y1="543.1" x2="173.8" y2="606.8"/>
<g transform="translate(122.5 523) rotate(20)">
<rect class="k" x="-2.5" y="-5" width="5" height="18"/>
<line class="k" x1="0" y1="-14" x2="0" y2="16"/>
<rect class="k" x="-4.5" y="-9" width="9" height="4"/>
</g>
<line class="gt" x1="76" y1="595.7" x2="139.7" y2="595.7"/>
<line class="k" x1="75.6" y1="602.7" x2="139.9" y2="602.7"/>
<line class="k" x1="75.6" y1="595" x2="75.6" y2="667.8"/>
<path class="kf" d="M98.6 603 Q105.6 603 105.6 610 L105.6 712.2 Q105.6 719.2 98.6 719.2"/>
<path class="kf" d="M115.8 603 Q108.8 603 108.8 610 L108.8 712.2 Q108.8 719.2 115.8 719.2"/>
<rect class="k" x="75.6" y="719.2" width="64.3" height="10.7"/>
<line class="k" x1="75.6" y1="724.5" x2="139.9" y2="724.5"/>
<line class="k" x1="92.1" y1="585.4" x2="92.1" y2="616.4"/>
<line class="k" x1="90.1" y1="588.4" x2="90.1" y2="613.4"/>
<line class="k" x1="94.1" y1="588.4" x2="94.1" y2="613.4"/>
<rect class="k" x="87.6" y="591" width="9" height="5"/>
<line class="k" x1="87.6" y1="593.5" x2="96.6" y2="593.5"/>
<rect class="k" x="87.6" y="603" width="9" height="5"/>
<line class="k" x1="87.6" y1="605.5" x2="96.6" y2="605.5"/>
<line class="k" x1="92.1" y1="710.6" x2="92.1" y2="744.9"/>
<line class="k" x1="90.1" y1="713.6" x2="90.1" y2="741.9"/>
<line class="k" x1="94.1" y1="713.6" x2="94.1" y2="741.9"/>
<rect class="k" x="87.6" y="713" width="9" height="5"/>
<line class="k" x1="87.6" y1="715.5" x2="96.6" y2="715.5"/>
<rect class="k" x="87.6" y="728" width="9" height="5"/>
<line class="k" x1="87.6" y1="730.5" x2="96.6" y2="730.5"/>
<line class="k" x1="123.8" y1="585.4" x2="123.8" y2="616.4"/>
<line class="k" x1="121.8" y1="588.4" x2="121.8" y2="613.4"/>
<line class="k" x1="125.8" y1="588.4" x2="125.8" y2="613.4"/>
<rect class="k" x="119.3" y="591" width="9" height="5"/>
<line class="k" x1="119.3" y1="593.5" x2="128.3" y2="593.5"/>
<rect class="k" x="119.3" y="603" width="9" height="5"/>
<line class="k" x1="119.3" y1="605.5" x2="128.3" y2="605.5"/>
<line class="k" x1="123.8" y1="710.6" x2="123.8" y2="744.9"/>
<line class="k" x1="121.8" y1="713.6" x2="121.8" y2="741.9"/>
<line class="k" x1="125.8" y1="713.6" x2="125.8" y2="741.9"/>
<rect class="k" x="119.3" y="713" width="9" height="5"/>
<line class="k" x1="119.3" y1="715.5" x2="128.3" y2="715.5"/>
<rect class="k" x="119.3" y="728" width="9" height="5"/>
<line class="k" x1="119.3" y1="730.5" x2="128.3" y2="730.5"/>
<line class="k" x1="80.5" y1="729.9" x2="80.5" y2="831"/>
<line class="k" x1="134.9" y1="729.9" x2="134.9" y2="831"/>
<rect class="k" x="139.9" y="598.2" width="5.3" height="124.2"/>
<rect class="k" x="145.2" y="611.7" width="5.4" height="47.5"/>
<line class="k" x1="129.1" y1="632.5" x2="159.1" y2="632.5"/>
<line class="k" x1="132.1" y1="630.5" x2="156.1" y2="630.5"/>
<line class="k" x1="132.1" y1="634.5" x2="156.1" y2="634.5"/>
<rect class="k" x="134" y="627.5" width="5" height="10"/>
<rect class="k" x="148" y="627.5" width="5" height="10"/>
<line class="k" x1="75.6" y1="639.5" x2="108" y2="639.5"/>
<line class="k" x1="75.6" y1="650" x2="123.8" y2="650"/>
<line class="k" x1="75.6" y1="665.7" x2="139.9" y2="665.7"/>
<line class="k" x1="92.1" y1="616.4" x2="92.1" y2="641"/>
<line class="k" x1="123.8" y1="616.4" x2="123.8" y2="652"/>
<line class="k" x1="139.2" y1="595.2" x2="297.5" y2="656"/>
<line class="g" x1="145.2" y1="600.5" x2="297.5" y2="658.5"/>
<line class="k" x1="150.7" y1="611.6" x2="297.5" y2="660.5"/>
<line class="k" x1="150.7" y1="614.5" x2="297.5" y2="663.5"/>
<line class="k" x1="150.7" y1="617.5" x2="297.5" y2="666.5"/>
<line class="k" x1="150.7" y1="655.1" x2="297.5" y2="708.2"/>
<line class="k" x1="150.7" y1="658" x2="297.5" y2="711"/>
<polyline class="k" points="166,611 168,606 198,616 196,621"/>
<g transform="translate(169.8 618.5) rotate(20)">
<line class="k" x1="0" y1="-13" x2="0" y2="13"/>
<rect x="-2.8" y="-7" width="5.6" height="18" fill="#777" stroke="#222" stroke-width="0.9"/>
<line class="k" x1="-2.8" y1="-5" x2="2.8" y2="-3.5"/>
<line class="k" x1="-2.8" y1="-1.8" x2="2.8" y2="-0.3"/>
<line class="k" x1="-2.8" y1="1.4" x2="2.8" y2="2.9"/>
<line class="k" x1="-2.8" y1="4.6" x2="2.8" y2="6.1"/>
<line class="k" x1="-2.8" y1="7.8" x2="2.8" y2="9.3"/>
<rect class="k" x="-6" y="-10" width="12" height="3.5"/>
</g>
<g transform="translate(193.4 628.2) rotate(20)">
<line class="k" x1="0" y1="-13" x2="0" y2="13"/>
<rect x="-2.8" y="-7" width="5.6" height="18" fill="#777" stroke="#222" stroke-width="0.9"/>
<line class="k" x1="-2.8" y1="-5" x2="2.8" y2="-3.5"/>
<line class="k" x1="-2.8" y1="-1.8" x2="2.8" y2="-0.3"/>
<line class="k" x1="-2.8" y1="1.4" x2="2.8" y2="2.9"/>
<line class="k" x1="-2.8" y1="4.6" x2="2.8" y2="6.1"/>
<line class="k" x1="-2.8" y1="7.8" x2="2.8" y2="9.3"/>
<rect class="k" x="-6" y="-10" width="12" height="3.5"/>
</g>
<line class="g" x1="297.5" y1="585" x2="297.5" y2="575"/>
<line class="k" x1="350.2" y1="451" x2="350.2" y2="831"/>
<rect class="k" x="345.6" y="571.2" width="4.7" height="27.6"/>
<rect class="k" x="344.4" y="625.3" width="5.9" height="47.1"/>
<rect class="k" x="340.9" y="576.3" width="4.7" height="11"/>
<line class="k" x1="345.6" y1="579.2" x2="364.4" y2="579.2"/>
<line class="k" x1="345.6" y1="584.4" x2="364.4" y2="584.4"/>
<rect x="364.4" y="579.3" width="87.1" height="5" fill="#2e2e2e"/>
<path class="k" d="M451.5 579.3 L456 581.8 L451.5 584.3"/>
<line class="k" x1="451.5" y1="581.8" x2="463.8" y2="581.8"/>
<rect class="k" x="340.9" y="641.7" width="4.7" height="11"/>
<line class="k" x1="345.6" y1="644.6" x2="364.4" y2="644.6"/>
<line class="k" x1="345.6" y1="649.8" x2="364.4" y2="649.8"/>
<rect x="364.4" y="644.7" width="87.1" height="5" fill="#2e2e2e"/>
<path class="k" d="M451.5 644.7 L456 647.2 L451.5 649.7"/>
<line class="k" x1="451.5" y1="647.2" x2="463.8" y2="647.2"/>
<polygon class="k" points="297.9,597.6 337.4,585.3 340.3,592.4 298.5,607.1"/>
<polygon class="k" points="317.4,606.5 345.6,596.5 346.5,599.2 318.5,609.4"/>
<line class="k" x1="297.9" y1="642.4" x2="344.4" y2="625.9"/>
<line class="k" x1="297.9" y1="645.3" x2="344.4" y2="628.2"/>
<line class="k" x1="297.9" y1="684.7" x2="344.4" y2="667.6"/>
<line class="k" x1="297.9" y1="687.6" x2="344.4" y2="670"/>
<rect class="k" x="463.9" y="625" width="58.4" height="47.1"/>
<rect class="k" x="480.1" y="629.9" width="26" height="3.2"/>
<rect class="k" x="480.1" y="668.3" width="26" height="3.2"/>
<line class="k" x1="491.5" y1="633.1" x2="491.5" y2="668.3"/>
<line class="k" x1="494.7" y1="633.1" x2="494.7" y2="668.3"/>
<line class="k" x1="493.1" y1="629.9" x2="493.1" y2="677"/>
<circle class="k" cx="480.1" cy="647.7" r="3.6"/>
<circle class="k" cx="506.8" cy="647.7" r="3.6"/>
<line class="k" x1="463.9" y1="593.2" x2="522.3" y2="593.2"/>
<line class="k" x1="463.9" y1="604.5" x2="506.8" y2="604.5"/>
<line class="k" x1="463.9" y1="614.6" x2="480.1" y2="614.6"/>
<line class="k" x1="463.9" y1="590" x2="463.9" y2="625"/>
<line class="k" x1="480.1" y1="614.6" x2="480.1" y2="643"/>
<line class="k" x1="506.8" y1="604.5" x2="506.8" y2="643"/>
<line class="k" x1="522.3" y1="590" x2="522.3" y2="625"/>
<line class="k" x1="522.3" y1="625" x2="546.7" y2="625"/>
<line class="k" x1="522.3" y1="672.1" x2="546.7" y2="672.1"/>
<line class="k" x1="545.7" y1="622" x2="545.7" y2="675"/>
<line class="g" x1="556" y1="475.6" x2="703.5" y2="525.8"/>
<line class="g2" x1="556" y1="486" x2="700.4" y2="535.1"/>
<line class="g" x1="556" y1="497" x2="697.1" y2="545"/>
<line class="o" x1="556" y1="508" x2="693.8" y2="554.8"/>
<line class="g" x1="556" y1="518" x2="690.8" y2="563.8"/>
<line class="g2" x1="556" y1="528" x2="687.8" y2="572.8"/>
<line class="k2" x1="650.7" y1="552.6" x2="693.2" y2="566.4"/>
<line class="k" x1="556" y1="539.9" x2="733" y2="601"/>
<line class="k" x1="556" y1="542.5" x2="733" y2="603.6"/>
<line class="k" x1="556" y1="545" x2="690" y2="591"/>
<line class="k" x1="556" y1="569.8" x2="731" y2="633"/>
<line class="k" x1="556" y1="572.5" x2="731" y2="635.7"/>
<line class="k" x1="647.5" y1="574.7" x2="687.4" y2="588"/>
<line class="k" x1="647.5" y1="577.5" x2="687.4" y2="590.8"/>
<line class="k" x1="687.4" y1="588" x2="687.4" y2="590.8"/>
<g transform="translate(655 582) rotate(20)">
<line class="k" x1="0" y1="-9" x2="0" y2="9"/>
<rect x="-2.8" y="-3" width="5.6" height="10" fill="#777" stroke="#222" stroke-width="0.9"/>
<line class="k" x1="-2.8" y1="-1" x2="2.8" y2="0.5"/>
<line class="k" x1="-2.8" y1="2.2" x2="2.8" y2="3.7"/>
<rect class="k" x="-6" y="-6" width="12" height="3.5"/>
</g>
<g transform="translate(670 588) rotate(20)">
<line class="k" x1="0" y1="-9" x2="0" y2="9"/>
<rect x="-2.8" y="-3" width="5.6" height="10" fill="#777" stroke="#222" stroke-width="0.9"/>
<line class="k" x1="-2.8" y1="-1" x2="2.8" y2="0.5"/>
<line class="k" x1="-2.8" y1="2.2" x2="2.8" y2="3.7"/>
<rect class="k" x="-6" y="-6" width="12" height="3.5"/>
</g>
<polyline class="k15" points="693.2,566.4 698.3,568.7 698.3,592.3 807,592.3 807,564.1 811.6,560.6"/>
<line class="k" x1="705.4" y1="518.1" x2="810.4" y2="518.1"/>
<line class="k" x1="705.4" y1="514" x2="705.4" y2="527.3"/>
<line class="k" x1="810.4" y1="514" x2="810.4" y2="552.6"/>
<line class="g" x1="705.4" y1="527.3" x2="697" y2="560"/>
<line class="k" x1="810.4" y1="551.4" x2="936" y2="511.2"/>
<line class="k" x1="810.4" y1="555.8" x2="936" y2="515.5"/>
<line class="k2" x1="812" y1="558.3" x2="854" y2="545"/>
<line class="k" x1="787.4" y1="606.6" x2="936" y2="551.4"/>
<line class="k" x1="787.4" y1="609" x2="936" y2="553.8"/>
<line class="k" x1="787.4" y1="634.2" x2="936" y2="577.9"/>
<line class="k" x1="787.4" y1="636.6" x2="936" y2="580.3"/>
<rect class="k" x="711.6" y="592.3" width="19.5" height="16.4"/>
<path class="k" d="M710.4 592.3 L710.4 699.5 Q711 717.9 741.5 717.9 L763.3 717.9"/>
<path class="k" d="M731.1 592.3 L731.1 690.3 Q731.5 699 741.5 699 L763.3 699"/>
<line class="k2" x1="711.6" y1="592.3" x2="711.6" y2="608.7"/>
<line class="k2" x1="730.6" y1="592.3" x2="730.6" y2="608.7"/>
<rect class="k" x="738" y="593.8" width="44.8" height="78.2"/>
<path class="k" d="M741.5 672 L741.5 596 L754 596 Q759.8 596 759.8 602 L759.8 672"/>
<path class="k" d="M780.5 672 L780.5 596 L768 596 Q762.1 596 762.1 602 L762.1 672"/>
<rect class="k" x="740.3" y="670.8" width="42.5" height="4.6"/>
<rect class="k" x="732.3" y="607.6" width="4.6" height="28.7"/>
<rect class="k" x="784" y="607.6" width="3.4" height="28.7"/>
<line class="k" x1="728.8" y1="622.5" x2="749.5" y2="622.5"/>
<line class="k" x1="731.8" y1="620.5" x2="746.5" y2="620.5"/>
<line class="k" x1="731.8" y1="624.5" x2="746.5" y2="624.5"/>
<rect class="k" x="733" y="617.5" width="5" height="10"/>
<rect class="k" x="741" y="617.5" width="5" height="10"/>
<line class="k" x1="770.2" y1="622.5" x2="793.2" y2="622.5"/>
<line class="k" x1="773.2" y1="620.5" x2="790.2" y2="620.5"/>
<line class="k" x1="773.2" y1="624.5" x2="790.2" y2="624.5"/>
<rect class="k" x="774" y="617.5" width="5" height="10"/>
<rect class="k" x="782" y="617.5" width="5" height="10"/>
<line class="k" x1="750.7" y1="665" x2="750.7" y2="685.7"/>
<line class="k" x1="748.7" y1="668" x2="748.7" y2="682.7"/>
<line class="k" x1="752.7" y1="668" x2="752.7" y2="682.7"/>
<rect class="k" x="746.7" y="667" width="8" height="5"/>
<line class="k" x1="746.7" y1="669.5" x2="754.7" y2="669.5"/>
<rect class="k" x="746.7" y="676" width="8" height="5"/>
<line class="k" x1="746.7" y1="678.5" x2="754.7" y2="678.5"/>
<line class="k" x1="770.2" y1="665" x2="770.2" y2="685.7"/>
<line class="k" x1="768.2" y1="668" x2="768.2" y2="682.7"/>
<line class="k" x1="772.2" y1="668" x2="772.2" y2="682.7"/>
<rect class="k" x="766.2" y="667" width="8" height="5"/>
<line class="k" x1="766.2" y1="669.5" x2="774.2" y2="669.5"/>
<rect class="k" x="766.2" y="676" width="8" height="5"/>
<line class="k" x1="766.2" y1="678.5" x2="774.2" y2="678.5"/>
<line class="k" x1="744.2" y1="675.4" x2="744.2" y2="831"/>
<line class="k" x1="777.1" y1="675.4" x2="777.1" y2="831"/>
<line class="k" x1="676" y1="663.9" x2="724.2" y2="645.5"/>
<line class="k" x1="702.4" y1="715" x2="761" y2="709.9"/>
<line class="k" x1="795.5" y1="646.6" x2="795.5" y2="752.4"/>
<line class="k" x1="831.1" y1="646.6" x2="831.1" y2="752.4"/>
<line class="k" x1="795.5" y1="752.4" x2="848.3" y2="752.4"/>
<line class="k" x1="795.5" y1="676" x2="848.3" y2="676"/>
<line class="k" x1="844.9" y1="673" x2="844.9" y2="755"/>
<line class="k" x1="795.5" y1="650.1" x2="831.1" y2="650.1"/>
<line class="k" x1="795.5" y1="660.4" x2="821.9" y2="660.4"/>
<line class="k" x1="795.5" y1="671.5" x2="805.8" y2="671.5"/>
<line class="k" x1="805.8" y1="671.5" x2="805.8" y2="700"/>
<line class="k" x1="821.9" y1="660.4" x2="821.9" y2="700"/>
<line class="k2" x1="805.4" y1="692" x2="821.9" y2="692"/>
<line class="k2" x1="805.4" y1="717.4" x2="821.9" y2="717.4"/>
<line class="k" x1="812.8" y1="692" x2="812.8" y2="717.4"/>
<line class="k" x1="814.8" y1="692" x2="814.8" y2="717.4"/>
<line class="k" x1="813.8" y1="688" x2="813.8" y2="722"/>
<circle class="k" cx="805.1" cy="703" r="3"/>
<circle class="k" cx="821.9" cy="703" r="3"/>
<line class="k" x1="855.9" y1="655" x2="855.9" y2="718.6"/>
<line class="k" x1="891.3" y1="655" x2="891.3" y2="718.6"/>
<line class="k" x1="855.9" y1="718.6" x2="911.5" y2="718.6"/>
<line class="k" x1="855.9" y1="687.6" x2="911.5" y2="687.6"/>
<line class="k" x1="908.8" y1="685" x2="908.8" y2="721"/>
<line class="k" x1="855.9" y1="659.3" x2="891.3" y2="659.3"/>
<line class="k" x1="855.9" y1="669.6" x2="882.8" y2="669.6"/>
<line class="k" x1="855.9" y1="680.4" x2="865.6" y2="680.4"/>
<line class="k" x1="865.6" y1="680.4" x2="865.6" y2="700"/>
<line class="k" x1="882.8" y1="669.6" x2="882.8" y2="700"/>
<line class="k2" x1="865.1" y1="692" x2="882.1" y2="692"/>
<line class="k2" x1="865.1" y1="717.4" x2="882.1" y2="717.4"/>
<line class="k" x1="872.6" y1="692" x2="872.6" y2="717.4"/>
<line class="k" x1="874.6" y1="692" x2="874.6" y2="717.4"/>
<line class="k" x1="873.6" y1="688" x2="873.6" y2="722"/>
<circle class="k" cx="865.1" cy="703" r="3"/>
<circle class="k" cx="882.1" cy="703" r="3"/>
<polyline class="k" points="936,639.7 1009.6,626.9 1074.6,626.9 1193,646.9"/>
<polyline class="k" points="936,642 1009.6,628.8 1074.6,628.8 1193,649.3"/>
<polyline class="k" points="936,713.2 1016.8,698.7 1071,698.7 1193,720.4"/>
<polyline class="k" points="936,715.5 1016.8,701 1071,701 1193,722.8"/>
<line class="k2" x1="1004" y1="631" x2="1020" y2="628"/>
<line class="k2" x1="1074" y1="630" x2="1108" y2="637"/>
<polyline class="g2" points="936,653.7 1032,638.9"/>
<polyline class="g2" points="1056,638.9 1193,660.9"/>
<polyline class="g" points="936,663.7 1032,648.9"/>
<polyline class="g" points="1056,648.9 1193,670.9"/>
<polyline class="g" points="936,675.7 1032,660.9"/>
<polyline class="g" points="1056,660.9 1193,682.9"/>
<polyline class="o" points="936,687.7 1032,672.9"/>
<polyline class="o" points="1056,672.9 1193,694.9"/>
<polyline class="g" points="936,697.7 1032,682.9"/>
<polyline class="g" points="1056,682.9 1193,704.9"/>
<polyline class="g2" points="936,703.7 1032,688.9"/>
<polyline class="g2" points="1056,688.9 1193,710.9"/>
<line class="g2" x1="1032" y1="644" x2="1036" y2="670"/>
<line class="g2" x1="1056" y1="644" x2="1052" y2="670"/>
<path class="k" d="M1019.2 628 Q1019.2 625.9 1024 625.9 L1062.6 625.9 Q1067.4 625.9 1067.4 628 Q1067.4 630 1062.6 630 L1024 630 Q1019.2 630 1019.2 628 Z"/>
<line class="k" x1="1042.1" y1="630" x2="1042.1" y2="695.1"/>
<line class="k" x1="1045.2" y1="630" x2="1045.2" y2="695.1"/>
<path class="k" d="M1015.6 699.9 L1015.6 697.5 Q1025 695.1 1035 695.1 L1052 695.1 Q1062 695.1 1072.2 697.5 L1072.2 699.9 Z"/>
<line class="k" x1="1032.5" y1="674.1" x2="1063.8" y2="674.1"/>
<line class="k" x1="1035.5" y1="672.1" x2="1060.8" y2="672.1"/>
<line class="k" x1="1035.5" y1="676.1" x2="1060.8" y2="676.1"/>
<rect class="k" x="1036" y="669.1" width="5" height="10"/>
<rect class="k" x="1047" y="669.1" width="5" height="10"/>
<line class="k15" x1="538.5" y1="506.4" x2="556" y2="506.4"/>
<line class="k" x1="123.4" y1="852.6" x2="170.8" y2="852.6"/>
<line class="k" x1="123.4" y1="852.6" x2="123.4" y2="932.6"/>
<polyline class="k" points="170.8,852.6 170.8,927.6 205.7,927.6 205.7,933.2"/>
<line class="k" x1="166.3" y1="852.6" x2="166.3" y2="1055.9"/>
<line class="k" x1="112" y1="892.1" x2="219.5" y2="892.1"/>
<rect class="k" x="116.9" y="888.4" width="58.2" height="7.5"/>
<line class="k" x1="131" y1="888.4" x2="131" y2="895.9"/>
<rect class="k" x="170.8" y="886.2" width="5.3" height="11.8"/>
<line class="k" x1="182" y1="919.7" x2="182" y2="955.3"/>
<rect class="k" x="176.5" y="924.7" width="11" height="3.8"/>
<rect class="k" x="176.5" y="934.5" width="11" height="4.5"/>
<rect class="k" x="179" y="928.5" width="6" height="21.5"/>
<line class="k15" x1="122.8" y1="933.2" x2="246.2" y2="933.2"/>
<line class="k15" x1="144.2" y1="1006.2" x2="246.2" y2="1006.2"/>
<line class="k" x1="147.5" y1="933.2" x2="147.5" y2="1006.2"/>
<line class="k" x1="168" y1="933.2" x2="168" y2="1006.2"/>
<line class="k" x1="219.5" y1="839.8" x2="219.5" y2="1031.2"/>
<line class="k" x1="1520.3" y1="840" x2="1520.3" y2="1031.5"/>
<line class="k" x1="219.5" y1="842.8" x2="1520.3" y2="842.8"/>
<line class="k" x1="219.5" y1="853.8" x2="1479.3" y2="853.8"/>
<line class="k" x1="219.5" y1="863.6" x2="1019.4" y2="863.6"/>
<line class="k" x1="219.5" y1="874.9" x2="666.2" y2="874.9"/>
<line class="k" x1="219.5" y1="884.4" x2="259.4" y2="884.4"/>
<line class="k" x1="219.5" y1="899.2" x2="1520.3" y2="899.2"/>
<line class="k" x1="219.5" y1="1009.1" x2="1520.3" y2="1009.1"/>
<line class="k" x1="219.5" y1="1018" x2="329.2" y2="1018"/>
<line class="k" x1="219.5" y1="1028.4" x2="1520.3" y2="1028.4"/>
<line class="k" x1="166.3" y1="1053.6" x2="1480.2" y2="1053.6"/>
<line class="k" x1="1480.2" y1="1016.6" x2="1480.2" y2="1055.5"/>
<line class="k" x1="1479.3" y1="850" x2="1479.3" y2="908"/>
<line class="k" x1="1019.4" y1="860" x2="1019.4" y2="908"/>
<line class="k" x1="666.2" y1="870" x2="666.2" y2="908"/>
<line class="k" x1="259.4" y1="880" x2="259.4" y2="908"/>
<line class="k" x1="295" y1="899.2" x2="295" y2="912.6"/>
<line class="k" x1="304.5" y1="899.2" x2="304.5" y2="952.7"/>
<line class="k" x1="315.2" y1="899.2" x2="315.2" y2="992.8"/>
<line class="k" x1="325.3" y1="899.2" x2="325.3" y2="1018"/>
<line class="k" x1="259.4" y1="912.6" x2="297" y2="912.6"/>
<line class="k" x1="259.4" y1="952.7" x2="306" y2="952.7"/>
<line class="k" x1="259.4" y1="992.8" x2="317" y2="992.8"/>
<line class="k" x1="461.3" y1="992.8" x2="461.3" y2="1014.4"/>
<line class="k" x1="456" y1="992.8" x2="466" y2="992.8"/>
<line class="k" x1="456" y1="1014.4" x2="466" y2="1014.4"/>
<line class="k" x1="559.3" y1="969" x2="559.3" y2="1014.4"/>
<line class="k" x1="554" y1="969" x2="564" y2="969"/>
<line class="k" x1="554" y1="1014.4" x2="564" y2="1014.4"/>
<clipPath id="cp"><polygon points="182,961 184,959.5 186,963.1 222.8,963.1 225.8,960.4 239.8,960.4 242.8,963.1 274.3,963.1 286.3,939.3 302.3,939.3 314.3,963.1 345.8,963.1 348.8,960.4 362.8,960.4 365.8,963.1 399.7,963.1 402.7,960.4 416.7,960.4 419.7,963.1 451.2,963.1 463.2,939.3 479.2,939.3 491.2,963.1 522.7,963.1 525.7,960.4 539.7,960.4 542.7,963.1 576.6,963.1 579.6,960.4 593.6,960.4 596.6,963.1 628.1,963.1 640.1,939.3 656.1,939.3 668.1,963.1 699.6,963.1 702.6,960.4 716.6,960.4 719.6,963.1 753.5,963.1 756.5,960.4 770.5,960.4 773.5,963.1 805,963.1 817,939.3 833,939.3 845,963.1 876.5,963.1 879.5,960.4 893.5,960.4 896.5,963.1 930.4,963.1 933.4,960.4 947.4,960.4 950.4,963.1 981.9,963.1 993.9,939.3 1009.9,939.3 1021.9,963.1 1053.4,963.1 1056.4,960.4 1070.4,960.4 1073.4,963.1 1107.3,963.1 1110.3,960.4 1124.3,960.4 1127.3,963.1 1158.8,963.1 1170.8,939.3 1186.8,939.3 1198.8,963.1 1230.3,963.1 1233.3,960.4 1247.3,960.4 1250.3,963.1 1284.2,963.1 1287.2,960.4 1301.2,960.4 1304.2,963.1 1335.7,963.1 1347.7,939.3 1363.7,939.3 1375.7,963.1 1407.2,963.1 1410.2,960.4 1424.2,960.4 1427.2,963.1 1461.1,963.1 1464.1,960.4 1478.1,960.4 1481.1,963.1 1513.7,963.1 1504.8,1003.6 1504.8,1003.3 1482.8,1004.4 1460.8,1003.3 1438.8,1004.4 1416.8,1003.3 1394.8,1004.4 1372.8,1003.3 1350.8,1004.4 1328.8,1003.3 1306.8,1004.4 1284.8,1003.3 1262.8,1004.4 1240.8,1003.3 1218.8,1004.4 1196.8,1003.3 1174.8,1004.4 1152.8,1003.3 1130.8,1004.4 1108.8,1003.3 1086.8,1004.4 1064.8,1003.3 1042.8,1004.4 1020.8,1003.3 998.8,1004.4 976.8,1003.3 954.8,1004.4 932.8,1003.3 910.8,1004.4 888.8,1003.3 866.8,1004.4 844.8,1003.3 822.8,1004.4 800.8,1003.3 778.8,1004.4 756.8,1003.3 734.8,1004.4 712.8,1003.3 690.8,1004.4 668.8,1003.3 646.8,1004.4 624.8,1003.3 602.8,1004.4 580.8,1003.3 558.8,1004.4 536.8,1003.3 514.8,1004.4 492.8,1003.3 470.8,1004.4 448.8,1003.3 426.8,1004.4 404.8,1003.3 382.8,1004.4 360.8,1003.3 338.8,1004.4 316.8,1003.3 294.8,1004.4 272.8,1003.3 250.8,1004.4 228.8,1003.3 206.8,1004.4 186,1003.6"/></clipPath>
<path clip-path="url(#cp)" class="h" d="M116 1005.6 L186 935.6 M125.3 1005.6 L195.3 935.6 M134.6 1005.6 L204.6 935.6 M143.9 1005.6 L213.9 935.6 M153.2 1005.6 L223.2 935.6 M162.5 1005.6 L232.5 935.6 M171.8 1005.6 L241.8 935.6 M181.1 1005.6 L251.1 935.6 M190.4 1005.6 L260.4 935.6 M199.7 1005.6 L269.7 935.6 M209 1005.6 L279 935.6 M218.3 1005.6 L288.3 935.6 M227.6 1005.6 L297.6 935.6 M236.9 1005.6 L306.9 935.6 M246.2 1005.6 L316.2 935.6 M255.5 1005.6 L325.5 935.6 M264.8 1005.6 L334.8 935.6 M274.1 1005.6 L344.1 935.6 M283.4 1005.6 L353.4 935.6 M292.7 1005.6 L362.7 935.6 M302 1005.6 L372 935.6 M311.3 1005.6 L381.3 935.6 M320.6 1005.6 L390.6 935.6 M329.9 1005.6 L399.9 935.6 M339.2 1005.6 L409.2 935.6 M348.5 1005.6 L418.5 935.6 M357.8 1005.6 L427.8 935.6 M367.1 1005.6 L437.1 935.6 M376.4 1005.6 L446.4 935.6 M385.7 1005.6 L455.7 935.6 M395 1005.6 L465 935.6 M404.3 1005.6 L474.3 935.6 M413.6 1005.6 L483.6 935.6 M422.9 1005.6 L492.9 935.6 M432.2 1005.6 L502.2 935.6 M441.5 1005.6 L511.5 935.6 M450.8 1005.6 L520.8 935.6 M460.1 1005.6 L530.1 935.6 M469.4 1005.6 L539.4 935.6 M478.7 1005.6 L548.7 935.6 M488 1005.6 L558 935.6 M497.3 1005.6 L567.3 935.6 M506.6 1005.6 L576.6 935.6 M515.9 1005.6 L585.9 935.6 M525.2 1005.6 L595.2 935.6 M534.5 1005.6 L604.5 935.6 M543.8 1005.6 L613.8 935.6 M553.1 1005.6 L623.1 935.6 M562.4 1005.6 L632.4 935.6 M571.7 1005.6 L641.7 935.6 M581 1005.6 L651 935.6 M590.3 1005.6 L660.3 935.6 M599.6 1005.6 L669.6 935.6 M608.9 1005.6 L678.9 935.6 M618.2 1005.6 L688.2 935.6 M627.5 1005.6 L697.5 935.6 M636.8 1005.6 L706.8 935.6 M646.1 1005.6 L716.1 935.6 M655.4 1005.6 L725.4 935.6 M664.7 1005.6 L734.7 935.6 M674 1005.6 L744 935.6 M683.3 1005.6 L753.3 935.6 M692.6 1005.6 L762.6 935.6 M701.9 1005.6 L771.9 935.6 M711.2 1005.6 L781.2 935.6 M720.5 1005.6 L790.5 935.6 M729.8 1005.6 L799.8 935.6 M739.1 1005.6 L809.1 935.6 M748.4 1005.6 L818.4 935.6 M757.7 1005.6 L827.7 935.6 M767 1005.6 L837 935.6 M776.3 1005.6 L846.3 935.6 M785.6 1005.6 L855.6 935.6 M794.9 1005.6 L864.9 935.6 M804.2 1005.6 L874.2 935.6 M813.5 1005.6 L883.5 935.6 M822.8 1005.6 L892.8 935.6 M832.1 1005.6 L902.1 935.6 M841.4 1005.6 L911.4 935.6 M850.7 1005.6 L920.7 935.6 M860 1005.6 L930 935.6 M869.3 1005.6 L939.3 935.6 M878.6 1005.6 L948.6 935.6 M887.9 1005.6 L957.9 935.6 M897.2 1005.6 L967.2 935.6 M906.5 1005.6 L976.5 935.6 M915.8 1005.6 L985.8 935.6 M925.1 1005.6 L995.1 935.6 M934.4 1005.6 L1004.4 935.6 M943.7 1005.6 L1013.7 935.6 M953 1005.6 L1023 935.6 M962.3 1005.6 L1032.3 935.6 M971.6 1005.6 L1041.6 935.6 M980.9 1005.6 L1050.9 935.6 M990.2 1005.6 L1060.2 935.6 M999.5 1005.6 L1069.5 935.6 M1008.8 1005.6 L1078.8 935.6 M1018.1 1005.6 L1088.1 935.6 M1027.4 1005.6 L1097.4 935.6 M1036.7 1005.6 L1106.7 935.6 M1046 1005.6 L1116 935.6 M1055.3 1005.6 L1125.3 935.6 M1064.6 1005.6 L1134.6 935.6 M1073.9 1005.6 L1143.9 935.6 M1083.2 1005.6 L1153.2 935.6 M1092.5 1005.6 L1162.5 935.6 M1101.8 1005.6 L1171.8 935.6 M1111.1 1005.6 L1181.1 935.6 M1120.4 1005.6 L1190.4 935.6 M1129.7 1005.6 L1199.7 935.6 M1139 1005.6 L1209 935.6 M1148.3 1005.6 L1218.3 935.6 M1157.6 1005.6 L1227.6 935.6 M1166.9 1005.6 L1236.9 935.6 M1176.2 1005.6 L1246.2 935.6 M1185.5 1005.6 L1255.5 935.6 M1194.8 1005.6 L1264.8 935.6 M1204.1 1005.6 L1274.1 935.6 M1213.4 1005.6 L1283.4 935.6 M1222.7 1005.6 L1292.7 935.6 M1232 1005.6 L1302 935.6 M1241.3 1005.6 L1311.3 935.6 M1250.6 1005.6 L1320.6 935.6 M1259.9 1005.6 L1329.9 935.6 M1269.2 1005.6 L1339.2 935.6 M1278.5 1005.6 L1348.5 935.6 M1287.8 1005.6 L1357.8 935.6 M1297.1 1005.6 L1367.1 935.6 M1306.4 1005.6 L1376.4 935.6 M1315.7 1005.6 L1385.7 935.6 M1325 1005.6 L1395 935.6 M1334.3 1005.6 L1404.3 935.6 M1343.6 1005.6 L1413.6 935.6 M1352.9 1005.6 L1422.9 935.6 M1362.2 1005.6 L1432.2 935.6 M1371.5 1005.6 L1441.5 935.6 M1380.8 1005.6 L1450.8 935.6 M1390.1 1005.6 L1460.1 935.6 M1399.4 1005.6 L1469.4 935.6 M1408.7 1005.6 L1478.7 935.6 M1418 1005.6 L1488 935.6 M1427.3 1005.6 L1497.3 935.6 M1436.6 1005.6 L1506.6 935.6 M1445.9 1005.6 L1515.9 935.6 M1455.2 1005.6 L1525.2 935.6 M1464.5 1005.6 L1534.5 935.6 M1473.8 1005.6 L1543.8 935.6 M1483.1 1005.6 L1553.1 935.6 M1492.4 1005.6 L1562.4 935.6 M1501.7 1005.6 L1571.7 935.6 M1511 1005.6 L1581 935.6"/>
<polygon class="k" points="182,961 184,959.5 186,963.1 222.8,963.1 225.8,960.4 239.8,960.4 242.8,963.1 274.3,963.1 286.3,939.3 302.3,939.3 314.3,963.1 345.8,963.1 348.8,960.4 362.8,960.4 365.8,963.1 399.7,963.1 402.7,960.4 416.7,960.4 419.7,963.1 451.2,963.1 463.2,939.3 479.2,939.3 491.2,963.1 522.7,963.1 525.7,960.4 539.7,960.4 542.7,963.1 576.6,963.1 579.6,960.4 593.6,960.4 596.6,963.1 628.1,963.1 640.1,939.3 656.1,939.3 668.1,963.1 699.6,963.1 702.6,960.4 716.6,960.4 719.6,963.1 753.5,963.1 756.5,960.4 770.5,960.4 773.5,963.1 805,963.1 817,939.3 833,939.3 845,963.1 876.5,963.1 879.5,960.4 893.5,960.4 896.5,963.1 930.4,963.1 933.4,960.4 947.4,960.4 950.4,963.1 981.9,963.1 993.9,939.3 1009.9,939.3 1021.9,963.1 1053.4,963.1 1056.4,960.4 1070.4,960.4 1073.4,963.1 1107.3,963.1 1110.3,960.4 1124.3,960.4 1127.3,963.1 1158.8,963.1 1170.8,939.3 1186.8,939.3 1198.8,963.1 1230.3,963.1 1233.3,960.4 1247.3,960.4 1250.3,963.1 1284.2,963.1 1287.2,960.4 1301.2,960.4 1304.2,963.1 1335.7,963.1 1347.7,939.3 1363.7,939.3 1375.7,963.1 1407.2,963.1 1410.2,960.4 1424.2,960.4 1427.2,963.1 1461.1,963.1 1464.1,960.4 1478.1,960.4 1481.1,963.1 1513.7,963.1 1504.8,1003.6 1504.8,1003.3 1482.8,1004.4 1460.8,1003.3 1438.8,1004.4 1416.8,1003.3 1394.8,1004.4 1372.8,1003.3 1350.8,1004.4 1328.8,1003.3 1306.8,1004.4 1284.8,1003.3 1262.8,1004.4 1240.8,1003.3 1218.8,1004.4 1196.8,1003.3 1174.8,1004.4 1152.8,1003.3 1130.8,1004.4 1108.8,1003.3 1086.8,1004.4 1064.8,1003.3 1042.8,1004.4 1020.8,1003.3 998.8,1004.4 976.8,1003.3 954.8,1004.4 932.8,1003.3 910.8,1004.4 888.8,1003.3 866.8,1004.4 844.8,1003.3 822.8,1004.4 800.8,1003.3 778.8,1004.4 756.8,1003.3 734.8,1004.4 712.8,1003.3 690.8,1004.4 668.8,1003.3 646.8,1004.4 624.8,1003.3 602.8,1004.4 580.8,1003.3 558.8,1004.4 536.8,1003.3 514.8,1004.4 492.8,1003.3 470.8,1004.4 448.8,1003.3 426.8,1004.4 404.8,1003.3 382.8,1004.4 360.8,1003.3 338.8,1004.4 316.8,1003.3 294.8,1004.4 272.8,1003.3 250.8,1004.4 228.8,1003.3 206.8,1004.4 186,1003.6"/>
<line class="k" x1="449.4" y1="963.1" x2="440.4" y2="1003.6"/>
<line class="k" x1="981.4" y1="963.1" x2="972.4" y2="1003.6"/>
<polyline class="k" points="1493.7,933.4 1518.8,933.4 1518.8,1006.1 1493.7,1006.1"/>
<polyline class="k" points="1496,935.5 1516.7,935.5 1516.7,1004 1496,1004"/>
<circle class="k15" cx="259.4" cy="912.6" r="4.5"/>
<line class="k" x1="251.4" y1="912.6" x2="267.4" y2="912.6"/>
<line class="k" x1="259.4" y1="904.6" x2="259.4" y2="920.6"/>
<circle class="k15" cx="259.4" cy="952.7" r="4.5"/>
<line class="k" x1="251.4" y1="952.7" x2="267.4" y2="952.7"/>
<line class="k" x1="259.4" y1="944.7" x2="259.4" y2="960.7"/>
<circle class="k15" cx="259.4" cy="992.8" r="4.5"/>
<line class="k" x1="251.4" y1="992.8" x2="267.4" y2="992.8"/>
<line class="k" x1="259.4" y1="984.8" x2="259.4" y2="1000.8"/>
<circle class="k15" cx="666.2" cy="912.6" r="4.5"/>
<line class="k" x1="658.2" y1="912.6" x2="674.2" y2="912.6"/>
<line class="k" x1="666.2" y1="904.6" x2="666.2" y2="920.6"/>
<circle class="k15" cx="666.2" cy="952.7" r="4.5"/>
<line class="k" x1="658.2" y1="952.7" x2="674.2" y2="952.7"/>
<line class="k" x1="666.2" y1="944.7" x2="666.2" y2="960.7"/>
<circle class="k15" cx="666.2" cy="992.8" r="4.5"/>
<line class="k" x1="658.2" y1="992.8" x2="674.2" y2="992.8"/>
<line class="k" x1="666.2" y1="984.8" x2="666.2" y2="1000.8"/>
<circle class="k15" cx="1019.4" cy="912.6" r="4.5"/>
<line class="k" x1="1011.4" y1="912.6" x2="1027.4" y2="912.6"/>
<line class="k" x1="1019.4" y1="904.6" x2="1019.4" y2="920.6"/>
<circle class="k15" cx="1019.4" cy="952.7" r="4.5"/>
<line class="k" x1="1011.4" y1="952.7" x2="1027.4" y2="952.7"/>
<line class="k" x1="1019.4" y1="944.7" x2="1019.4" y2="960.7"/>
<circle class="k15" cx="1019.4" cy="992.8" r="4.5"/>
<line class="k" x1="1011.4" y1="992.8" x2="1027.4" y2="992.8"/>
<line class="k" x1="1019.4" y1="984.8" x2="1019.4" y2="1000.8"/>
<circle class="k15" cx="1479.3" cy="912.6" r="4.5"/>
<line class="k" x1="1471.3" y1="912.6" x2="1487.3" y2="912.6"/>
<line class="k" x1="1479.3" y1="904.6" x2="1479.3" y2="920.6"/>
<circle class="k15" cx="1479.3" cy="952.7" r="4.5"/>
<line class="k" x1="1471.3" y1="952.7" x2="1487.3" y2="952.7"/>
<line class="k" x1="1479.3" y1="944.7" x2="1479.3" y2="960.7"/>
<circle class="k15" cx="1479.3" cy="992.8" r="4.5"/>
<line class="k" x1="1471.3" y1="992.8" x2="1487.3" y2="992.8"/>
<line class="k" x1="1479.3" y1="984.8" x2="1479.3" y2="1000.8"/>
</svg>
</body></html>
